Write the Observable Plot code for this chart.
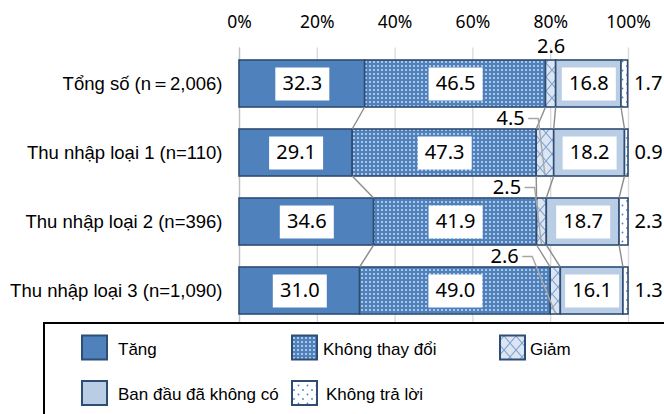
<!DOCTYPE html>
<html>
<head>
<meta charset="utf-8">
<script src="https://cdn.jsdelivr.net/npm/d3@7"></script>
<script src="https://cdn.jsdelivr.net/npm/@observablehq/plot@0.6"></script>
<style>
  html, body { margin: 0; padding: 0; background: #fff; }
  #chart { width: 664px; height: 414px; overflow: hidden; }
</style>
</head>
<body>
<div id="chart"></div>
<script>
// ---- Data ----
const groups = [
  "Tổng số (n＝2,006)",
  "Thu nhập loại 1 (n=110)",
  "Thu nhập loại 2 (n=396)",
  "Thu nhập loại 3 (n=1,090)"
];
const cats = ["Tăng", "Không thay đổi", "Giảm", "Ban đầu đã không có", "Không trả lời"];
const tang         = [32.3, 29.1, 34.6, 31.0];
const khongThayDoi = [46.5, 47.3, 41.9, 49.0];
const giam         = [2.6, 4.5, 2.5, 2.6];
const banDau       = [16.8, 18.2, 18.7, 16.1];
const khongTraLoi  = [1.7, 0.9, 2.3, 1.3];
const xTicks = [0, 20, 40, 60, 80, 100];

// ---- Build table ----
const series = [tang, khongThayDoi, giam, banDau, khongTraLoi];
const rows = [];
groups.forEach((g, gi) => {
  let cum = 0;
  cats.forEach((c, ci) => {
    const v = series[ci][gi];
    rows.push({group: g, gi, cat: c, ci, value: v, x1: cum, x2: cum + v, mid: cum + v / 2});
    cum += v;
  });
});
const boxed = rows.filter(d => d.ci === 0 || d.ci === 1 || d.ci === 3);
const rightLbl = rows.filter(d => d.ci === 4);
const giamRows = rows.filter(d => d.ci === 2);

const fills = ["#4F81BD", "url(#pDots)", "url(#pLattice)", "#B9CDE5", "url(#pSparse)"];
const edge = "#2E4D74";
const numFont = "'Noto Sans', 'DejaVu Sans', sans-serif";
const boxSymbol = { draw(ctx) { ctx.rect(-27, -16.5, 54, 33); } };
const fmt = v => v.toFixed(1);

// per-row offset of the Giảm label (pixels left of the segment start)
const giamLabelShift = [0, 12, 16, 32];

const marks = [
  Plot.gridX(xTicks, {stroke: "#D9D9D9", strokeOpacity: 1, strokeWidth: 1.3, insetTop: 11}),
  Plot.ruleX([0], {stroke: "#BFBFBF", strokeWidth: 1.3, insetTop: 11}),
  Plot.axisX(xTicks, {anchor: "top", tickSize: 0, tickPadding: 9, tickFormat: d => d + "%", fontSize: 17.5, fontFamily: numFont, label: null}),
  Plot.axisY({tickSize: 0, tickPadding: 17, fontSize: 18.5, fontFamily: "'Liberation Sans', Arial, sans-serif", label: null}),
  Plot.barX(rows, {x1: "x1", x2: "x2", y: "group", fill: "cat", stroke: edge, strokeWidth: 1.6}),
  Plot.dot(boxed, {x: "mid", y: "group", symbol: boxSymbol, fill: "white", stroke: "none"}),
  Plot.text(boxed, {x: "mid", y: "group", text: d => fmt(d.value), fontSize: 20, fontFamily: numFont, fill: "#000"}),
  Plot.text(rightLbl, {x: "x2", y: "group", text: d => fmt(d.value), textAnchor: "start", dx: 6, fontSize: 20, fontFamily: numFont, fill: "#000"}),
  Plot.text(giamRows.filter(d => d.gi === 0), {x: "mid", y: "group", text: d => fmt(d.value), dy: -37.5, fontSize: 20, fontFamily: numFont, fill: "#000"})
];
giamRows.filter(d => d.gi > 0).forEach(d => {
  marks.push(Plot.text([d], {x: "x1", y: "group", text: r => fmt(r.value), textAnchor: "end", dx: -giamLabelShift[d.gi], dy: -34, fontSize: 20, fontFamily: numFont, fill: "#000"}));
});

const chart = Plot.plot({
  width: 664,
  height: 414,
  marginLeft: 239,
  marginRight: 36,
  marginTop: 36.6,
  marginBottom: 77.2,
  style: {fontFamily: "'Liberation Sans', Arial, sans-serif", fontSize: "17px", color: "#000", background: "white"},
  x: {domain: [0, 100], axis: null, label: null},
  y: {domain: groups, padding: 0.32, axis: null, label: null},
  color: {type: "ordinal", domain: cats, range: fills},
  marks
});
document.getElementById("chart").appendChild(chart);

// ---- Patterns ----
const svg = d3.select(chart);
const defs = svg.insert("defs", ":first-child");
const pd = defs.append("pattern").attr("id", "pDots").attr("patternUnits", "userSpaceOnUse").attr("width", 4).attr("height", 4);
pd.append("rect").attr("width", 4).attr("height", 4).attr("fill", "#4F81BD");
pd.append("circle").attr("cx", 2).attr("cy", 2).attr("r", 0.9).attr("fill", "#DDE7F4");
const pl = defs.append("pattern").attr("id", "pLattice").attr("patternUnits", "userSpaceOnUse").attr("width", 12).attr("height", 14);
pl.append("rect").attr("width", 12).attr("height", 14).attr("fill", "#DCE6F2");
pl.append("path").attr("d", "M0,0L12,14M12,0L0,14").attr("stroke", "#7FA1D0").attr("stroke-width", 1.1).attr("fill", "none");
const ps = defs.append("pattern").attr("id", "pSparse").attr("patternUnits", "userSpaceOnUse").attr("width", 9).attr("height", 9);
ps.append("rect").attr("width", 9).attr("height", 9).attr("fill", "#fff");
ps.append("circle").attr("cx", 6).attr("cy", 3).attr("r", 0.9).attr("fill", "#4F81BD");
ps.append("circle").attr("cx", 1.5).attr("cy", 7.5).attr("r", 0.9).attr("fill", "#4F81BD");

// ---- Series lines and leaders via the chart's scales ----
const xs = chart.scale("x"), ys = chart.scale("y");
const bw = ys.bandwidth;
const X = v => xs.apply(v);
const bandTop = g => ys.apply(g);
const over = svg.append("g");
for (let gi = 0; gi < groups.length - 1; gi++) {
  for (let ci = 0; ci < 4; ci++) {
    const a = rows.find(d => d.gi === gi && d.ci === ci);
    const b = rows.find(d => d.gi === gi + 1 && d.ci === ci);
    over.append("line")
      .attr("x1", X(a.x2)).attr("y1", bandTop(a.group) + bw)
      .attr("x2", X(b.x2)).attr("y2", bandTop(b.group))
      .attr("stroke", "#8C8C8C").attr("stroke-width", 1.4);
  }
}
giamRows.filter(d => d.gi > 0).forEach(d => {
  const ly = bandTop(d.group) + bw / 2 - 34;
  const lx = X(d.x1) - giamLabelShift[d.gi] + 4;
  over.append("path")
    .attr("d", `M${lx},${ly}H${lx + 10}L${X(d.mid)},${bandTop(d.group) + bw - 1}`)
    .attr("fill", "none").attr("stroke", "#A6A6A6").attr("stroke-width", 1.4);
});

// ---- Legend ----
const lg = svg.append("g")
  .attr("font-family", "'Liberation Sans', Arial, sans-serif")
  .attr("font-size", 17)
  .attr("text-anchor", "start");
lg.append("rect").attr("x", 44).attr("y", 323).attr("width", 640).attr("height", 120)
  .attr("fill", "#fff").attr("stroke", "#000").attr("stroke-width", 2);
const legendItems = [
  {ci: 0, sx: 82, sy: 335.5, tx: 118, ty: 355},
  {ci: 1, sx: 292, sy: 335.5, tx: 323, ty: 355},
  {ci: 2, sx: 500, sy: 335.5, tx: 530, ty: 355},
  {ci: 3, sx: 82, sy: 381, tx: 118, ty: 400},
  {ci: 4, sx: 292, sy: 381, tx: 326, ty: 400}
];
legendItems.forEach(it => {
  lg.append("rect").attr("x", it.sx).attr("y", it.sy).attr("width", 25).attr("height", 24)
    .attr("fill", fills[it.ci]).attr("stroke", edge).attr("stroke-width", 2);
  lg.append("text").attr("x", it.tx).attr("y", it.ty).attr("fill", "#000")
    .attr("text-anchor", "start").text(cats[it.ci]);
});
</script>
</body>
</html>
